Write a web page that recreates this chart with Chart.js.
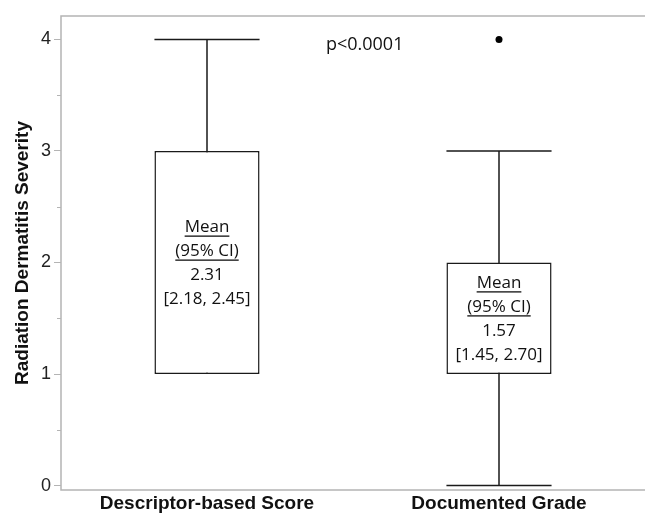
<!DOCTYPE html>
<html>
<head>
<meta charset="utf-8">
<script src="https://cdn.jsdelivr.net/npm/chart.js@4/dist/chart.umd.min.js"></script>
<style>
  html, body { margin: 0; padding: 0; background: #fff; overflow: hidden; }
  canvas { display: block; }
</style>
</head>
<body>
<canvas id="radBox" width="645" height="513"></canvas>
<script>
// data
const groups = ['Descriptor-based Score', 'Documented Grade'];
const boxQ1 = [1, 1];
const boxQ3 = [3, 2];
const whiskLow = [1, 0];
const whiskHigh = [4, 3];
const outliers = [null, 4];
const meanVals = ['2.31', '1.57'];
const ciVals = ['[2.18, 2.45]', '[1.45, 2.70]'];
const yTicks = [0, 1, 2, 3, 4];
const yMinor = [0.5, 1.5, 2.5, 3.5];
const pText = 'p<0.0001';

const frameColor = '#b4b4b4';
const lineColor = '#1a1a1a';
const noteFont = '17px "Open Sans", sans-serif';

/**
 * whiskers, box notes, minor ticks and frame
*/
const boxExtras = {
  id: 'boxExtras',
  beforeDatasetsDraw(chart) {
    const ctx = chart.ctx;
    const x = chart.scales.x, y = chart.scales.y;
    const bars = chart.getDatasetMeta(0).data;
    ctx.save();
    ctx.strokeStyle = lineColor;
    ctx.lineWidth = 1.5;
    groups.forEach((g, i) => {
      const cx = x.getPixelForValue(i);
      const half = bars[i].width / 2;
      const lo = y.getPixelForValue(whiskLow[i]);
      const hi = y.getPixelForValue(whiskHigh[i]);
      ctx.beginPath();
      ctx.moveTo(cx, lo); ctx.lineTo(cx, hi);
      ctx.moveTo(cx - half, hi); ctx.lineTo(cx + half, hi);
      if (whiskLow[i] < boxQ1[i]) {
        ctx.moveTo(cx - half, lo); ctx.lineTo(cx + half, lo);
      }
      ctx.stroke();
    });
    ctx.restore();
  },
  afterDatasetsDraw(chart) {
    const ctx = chart.ctx;
    const x = chart.scales.x, y = chart.scales.y;
    const area = chart.chartArea;
    ctx.save();
    ctx.fillStyle = '#111';
    ctx.font = noteFont;
    ctx.textAlign = 'center';
    ctx.textBaseline = 'middle';
    groups.forEach((g, i) => {
      const cx = x.getPixelForValue(i);
      const mid = y.getPixelForValue((boxQ1[i] + boxQ3[i]) / 2) + 1;
      const lines = ['Mean', '(95% CI)', meanVals[i], ciVals[i]];
      lines.forEach((t, k) => {
        const ty = mid + (k - 1.5) * 24;
        ctx.fillText(t, cx, ty);
        if (k < 2) {
          const w = ctx.measureText(t).width;
          ctx.fillRect(cx - w / 2, ty + 8, w, 1.3);
        }
      });
    });
    ctx.font = '18px "Open Sans", sans-serif';
    ctx.fillText(pText, x.getPixelForValue(0.54), y.getPixelForValue(3.95));

    // minor ticks
    ctx.strokeStyle = frameColor;
    ctx.lineWidth = 1;
    ctx.beginPath();
    yMinor.forEach(v => {
      const py = Math.round(y.getPixelForValue(v)) + 0.5;
      ctx.moveTo(area.left - 4, py); ctx.lineTo(area.left, py);
    });
    ctx.stroke();

    // frame: left, top, bottom
    ctx.lineWidth = 1.5;
    ctx.beginPath();
    ctx.moveTo(area.right, area.top); ctx.lineTo(area.left, area.top);
    ctx.lineTo(area.left, area.bottom); ctx.lineTo(area.right, area.bottom);
    ctx.stroke();
    ctx.restore();
  }
};

const ctxRad = document.getElementById('radBox');
const radConfig = {
  type: 'bar',
  data: {
    labels: groups,
    datasets: [
      {
        data: groups.map((g, i) => [boxQ1[i], boxQ3[i]]),
        backgroundColor: '#fff',
        borderColor: lineColor,
        borderWidth: 1.5,
        borderSkipped: false,
        categoryPercentage: 1,
        barPercentage: 0.36,
      },
      {
        type: 'line',
        data: outliers,
        showLine: false,
        pointRadius: 3.5,
        pointBackgroundColor: '#000',
        pointBorderWidth: 0,
      },
    ],
  },
  plugins: [boxExtras],
  options: {
    responsive: false,
    animation: false,
    layout: { autoPadding: false, padding: { top: 16, right: 0, left: 0, bottom: 0 } },
    plugins: {
      legend: { display: false },
      tooltip: { enabled: false },
    },
    scales: {
      x: {
        grid: { display: false, drawTicks: false },
        border: { display: false },
        ticks: {
          color: '#111',
          padding: 2,
          maxRotation: 0,
          autoSkip: false,
          font: { family: '"Liberation Sans", Arial, sans-serif', size: 19, weight: 'bold' },
        },
        afterFit(scale) { scale.height = 23; },
      },
      y: {
        min: -0.04,
        max: 4.21,
        border: { display: false },
        grid: { drawOnChartArea: false, tickLength: 7, color: frameColor, lineWidth: 1 },
        ticks: {
          color: '#222',
          padding: 3,
          font: { family: '"Liberation Sans", Arial, sans-serif', size: 18 },
        },
        afterBuildTicks(scale) { scale.ticks = yTicks.map(v => ({ value: v })); },
        afterFit(scale) { scale.width = 61; },
        title: {
          display: true,
          text: 'Radiation Dermatitis Severity',
          color: '#111',
          padding: { top: 11, bottom: 0 },
          font: { family: '"Liberation Sans", Arial, sans-serif', size: 19, weight: 'bold' },
        },
      },
    },
  },
};
window.radChart = new Chart(ctxRad, radConfig);
</script>
</body>
</html>
